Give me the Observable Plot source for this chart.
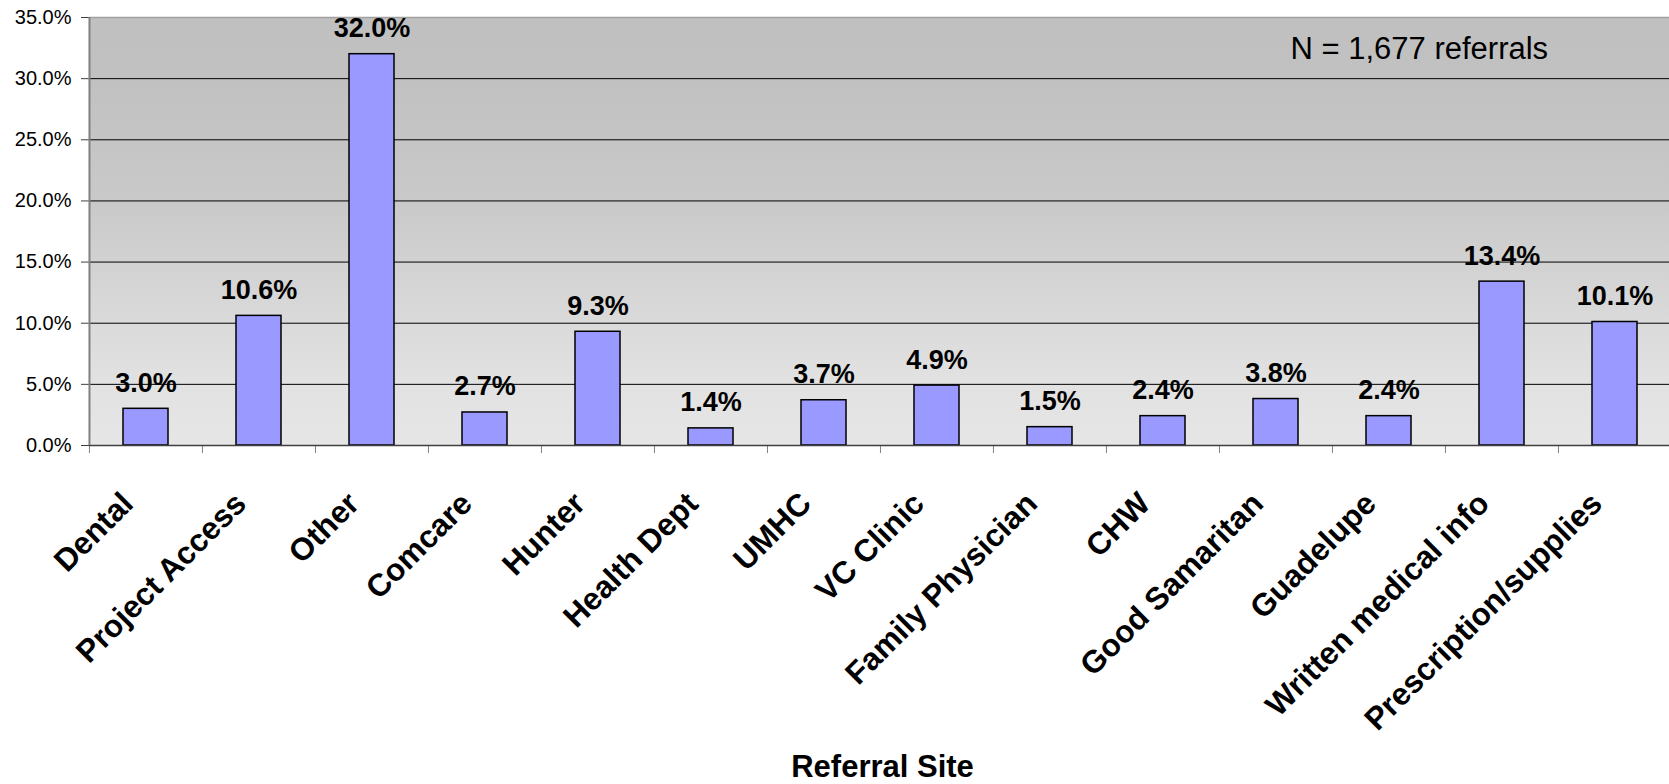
<!DOCTYPE html>
<html><head><meta charset="utf-8">
<script src="https://cdn.jsdelivr.net/npm/d3@7"></script>
<script src="https://cdn.jsdelivr.net/npm/@observablehq/plot@0.6"></script>
<style>html,body{margin:0;padding:0;background:#fff;overflow:hidden} svg{display:block}</style>
</head><body><div id="chart"></div>
<script>
const categories = ["Dental","Project Access","Other","Comcare","Hunter","Health Dept","UMHC","VC Clinic","Family Physician","CHW","Good Samaritan","Guadelupe","Written medical info","Prescription/supplies"];
const values = [3.0, 10.6, 32.0, 2.7, 9.3, 1.4, 3.7, 4.9, 1.5, 2.4, 3.8, 2.4, 13.4, 10.1];
const yTicks = [0, 5, 10, 15, 20, 25, 30, 35];
const noteText = "N = 1,677 referrals";
const xTitle = "Referral Site";

(function () {
const data = categories.map((c, i) => ({site: c, pct: values[i]}));
const W = 1669, H = 784;
const pLeft = 89, pRight = 1672, pTop = 17, pBottom = 445;
const step = (pRight - pLeft) / categories.length;
const font = "'Liberation Sans', Arial, sans-serif";

const plot = Plot.plot({
  width: W, height: H,
  marginLeft: pLeft, marginRight: 0, marginTop: pTop, marginBottom: H - pBottom,
  style: {fontFamily: font, background: "#fff", color: "#000"},
  x: {type: "band", domain: categories, range: [pLeft, pRight], paddingInner: 0.6, paddingOuter: 0.3, align: 0.5, axis: null},
  y: {domain: [0, 35], range: [pBottom, pTop], axis: null},
  marks: [
    Plot.frame({fill: "url(#bgGrad)", stroke: null}),
    Plot.ruleY(yTicks.filter(t => t > 0 && t < 35), {stroke: "#000", strokeWidth: 1}),
    Plot.ruleY([35], {stroke: "#a0a0a0", strokeWidth: 1.5}),
    Plot.axisY({ticks: yTicks, tickSize: 8, tickPadding: 10, tickFormat: d => d.toFixed(1) + "%", fontSize: 20, label: null, stroke: "#404040"}),
    Plot.axisX({dx: -step / 2, tickSize: 8, tickFormat: () => "", label: null, stroke: "#808080"}),
    Plot.barY(data, {x: "site", y: "pct", fill: "#9999ff", stroke: "#000", strokeWidth: 1.5}),
    Plot.ruleY([0], {stroke: "#404040", strokeWidth: 1.5}),
    Plot.ruleX([categories[0]], {dx: -step / 2, stroke: "#808080", strokeWidth: 2}),
    Plot.text(data, {x: "site", y: "pct", text: d => d.pct.toFixed(1) + "%", dy: -17, lineAnchor: "bottom", fontSize: 27, fontWeight: "bold", fill: "#000"}),
    Plot.text(data, {x: "site", y: 0, text: "site", rotate: -45, textAnchor: "end", lineAnchor: "bottom", dx: -11, dy: 60, fontSize: 31.5, fontWeight: "bold", fill: "#000"}),
    Plot.text([noteText], {frameAnchor: "top-right", text: d => d, textAnchor: "start", lineAnchor: "bottom", dx: 1290 - W, dy: 41, fontSize: 31, fill: "#000"}),
    Plot.text([xTitle], {frameAnchor: "bottom", text: d => d, lineAnchor: "bottom", dx: 3, dy: 331, fontSize: 31, fontWeight: "bold", fill: "#000"})
  ]
});

d3.select(plot).insert("defs", ":first-child").html(
  `<linearGradient id="bgGrad" x1="0" y1="0" x2="0" y2="1">
     <stop offset="0" stop-color="#c0c0c0"/>
     <stop offset="0.15" stop-color="#c1c1c1"/>
     <stop offset="0.43" stop-color="#c9c9c9"/>
     <stop offset="0.71" stop-color="#dadada"/>
     <stop offset="0.86" stop-color="#e2e2e2"/>
     <stop offset="1" stop-color="#e6e6e6"/>
   </linearGradient>`);

document.getElementById("chart").appendChild(plot);
})();
</script>
</body></html>
